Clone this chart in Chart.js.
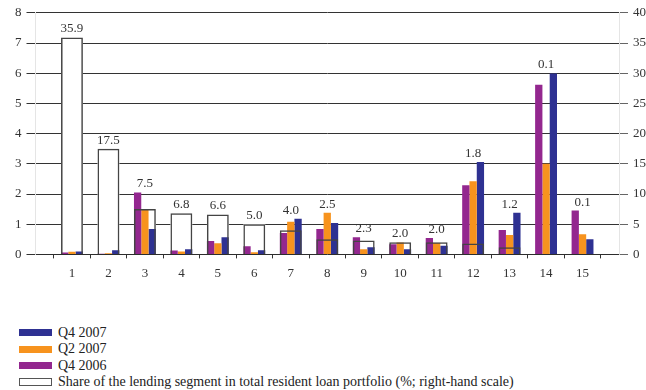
<!DOCTYPE html>
<html>
<head>
<meta charset="utf-8">
<script src="https://cdn.jsdelivr.net/npm/chart.js@4/dist/chart.umd.min.js"></script>
<style>
  body { margin: 0; background: #fff; font-family: 'Liberation Serif', serif; }
  #wrap { position: relative; width: 646px; height: 390px; }
  #legend { position: absolute; left: 19px; top: 325px; font-size: 14px; color: #222; }
  .item { height: 16.4px; line-height: 16.4px; white-space: nowrap; }
  .box { display: inline-block; width: 33px; height: 7px; margin-right: 6px; vertical-align: middle; position: relative; top: -1px; box-sizing: border-box; }
</style>
</head>
<body>
<div id="wrap">
  <canvas id="chart" width="646" height="300"></canvas>
  <div id="legend"></div>
</div>
<script>
const categories = ['1', '2', '3', '4', '5', '6', '7', '8', '9', '10', '11', '12', '13', '14', '15'];
const q4_2006 = [0.06, 0.02, 2.05, 0.13, 0.44, 0.27, 0.71, 0.84, 0.57, 0.34, 0.54, 2.29, 0.81, 5.62, 1.45];
const q2_2007 = [0.09, 0.04, 1.49, 0.10, 0.37, 0.07, 1.08, 1.38, 0.17, 0.39, 0.38, 2.42, 0.64, 3.00, 0.67];
const q4_2007 = [0.10, 0.14, 0.84, 0.17, 0.57, 0.14, 1.18, 1.04, 0.24, 0.17, 0.29, 3.06, 1.38, 5.99, 0.50];
const share = [35.9, 17.5, 7.5, 6.8, 6.6, 5.0, 4.0, 2.5, 2.3, 2.0, 2.0, 1.8, 1.2, 0.1, 0.1];

const shareLabel = 'Share of the lending segment in total resident loan portfolio (%; right-hand scale)';
const purple = '#93278f';
const orange = '#f7931e';
const navy = '#2e3192';

// empty slot at each end so the axis runs half a step past the first and last group
const pad = arr => [null, ...arr, null];
const labels = ['', ...categories, ''];
const font = { family: 'Liberation Serif', size: 13 };

const valueLabels = {
  id: 'valueLabels',
  afterDatasetsDraw(chart) {
    const ctx = chart.ctx;
    ctx.save();
    ctx.font = '13px "Liberation Serif"';
    ctx.fillStyle = '#333';
    ctx.textAlign = 'center';
    ctx.textBaseline = 'bottom';
    for (let i = 1; i <= categories.length; i++) {
      let top = Infinity;
      chart.data.datasets.forEach((ds, d) => {
        const el = chart.getDatasetMeta(d).data[i];
        if (ds.data[i] != null && el) top = Math.min(top, el.y);
      });
      const x = chart.getDatasetMeta(0).data[i].x;
      ctx.fillText(share[i - 1].toFixed(1), x, top - 2);
    }
    ctx.restore();
  }
};

new Chart(document.getElementById('chart'), {
  type: 'bar',
  data: {
    labels: labels,
    datasets: [
      {
        label: 'outline',
        data: pad(share),
        yAxisID: 'y2',
        grouped: false,
        backgroundColor: 'rgba(0,0,0,0)',
        borderColor: '#444',
        borderWidth: 1.5,
        categoryPercentage: 0.6,
        barPercentage: 1
      },
      { label: 'Q4 2006', data: pad(q4_2006), backgroundColor: purple, categoryPercentage: 0.6, barPercentage: 1 },
      { label: 'Q2 2007', data: pad(q2_2007), backgroundColor: orange, categoryPercentage: 0.6, barPercentage: 1 },
      { label: 'Q4 2007', data: pad(q4_2007), backgroundColor: navy, categoryPercentage: 0.6, barPercentage: 1 },
      {
        label: shareLabel,
        data: pad(share),
        yAxisID: 'y2',
        grouped: false,
        backgroundColor: '#fff',
        borderWidth: 0,
        categoryPercentage: 0.6,
        barPercentage: 1
      }
    ]
  },
  options: {
    responsive: false,
    animation: false,
    layout: { padding: { left: 10, right: -5, top: 6, bottom: 12 } },
    plugins: {
      legend: { display: false },
      tooltip: { enabled: false }
    },
    scales: {
      x: {
        offset: false,
        grid: { drawOnChartArea: false, tickLength: 4, color: '#333' },
        ticks: { autoSkip: false, maxRotation: 0, padding: 7, color: '#333', font: font }
      },
      y: {
        position: 'left',
        min: 0,
        max: 8,
        ticks: { stepSize: 1, padding: 5, color: '#333', font: font },
        grid: { display: true, drawOnChartArea: true, color: '#333', lineWidth: 1, tickLength: 9 }
      },
      y2: {
        position: 'right',
        min: 0,
        max: 40,
        ticks: { stepSize: 5, padding: 5, color: '#333', font: font },
        grid: { drawOnChartArea: false, color: '#666', tickLength: 9 }
      }
    }
  },
  plugins: [valueLabels]
});

const legendItems = [
  { text: 'Q4 2007', style: 'background:' + navy },
  { text: 'Q2 2007', style: 'background:' + orange },
  { text: 'Q4 2006', style: 'background:' + purple },
  { text: shareLabel, style: 'background:#fff;border:1px solid #555;height:8px' }
];
document.getElementById('legend').innerHTML = legendItems.map(it =>
  '<div class="item"><span class="box" style="' + it.style + '"></span>' + it.text + '</div>'
).join('');
</script>
</body>
</html>
